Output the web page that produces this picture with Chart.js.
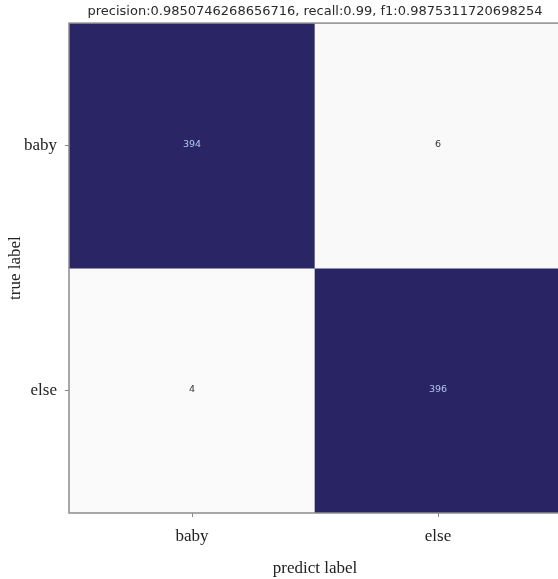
<!DOCTYPE html>
<html>
<head>
<meta charset="utf-8">
<script src="https://cdn.jsdelivr.net/npm/chart.js@4/dist/chart.umd.min.js"></script>
<style>
  html, body { margin: 0; padding: 0; background: #ffffff; overflow: hidden; }
  #wrap { width: 562px; height: 579px; }
</style>
</head>
<body>
<div id="wrap"><canvas id="c" width="562" height="579"></canvas></div>
<script>
// ---- data ----
const trueLabels = ['baby', 'else'];
const predLabels = ['baby', 'else'];
const countsBaby = [394, 6];   // true = baby, predicted baby / else
const countsElse = [4, 396];   // true = else, predicted baby / else
const titleText = 'precision:0.9850746268656716, recall:0.99, f1:0.9875311720698254';

const rows = [countsBaby, countsElse];
const n = trueLabels.length;
const maxCount = Math.max(...rows.flat());

const lo = [252, 252, 252];
const hi = [41, 37, 101];
function cellColor(v) {
  const t = v / maxCount;
  const c = lo.map((a, k) => Math.round(a + (hi[k] - a) * t));
  return `rgb(${c[0]},${c[1]},${c[2]})`;
}

const datasets = rows.map((row, i) => ({
  label: trueLabels[i],
  counts: row,
  data: row.map(() => [n - 1 - i, n - i]),
  backgroundColor: row.map(cellColor),
  borderWidth: 0,
  grouped: false,
  barPercentage: 1,
  categoryPercentage: 1
}));

const cellText = {
  id: 'cellText',
  afterDatasetsDraw(chart) {
    const ctx = chart.ctx;
    ctx.save();
    ctx.font = '9.5px "DejaVu Sans"';
    ctx.textAlign = 'center';
    ctx.textBaseline = 'middle';
    chart.data.datasets.forEach((ds, di) => {
      const meta = chart.getDatasetMeta(di);
      meta.data.forEach((el, j) => {
        const v = ds.counts[j];
        ctx.fillStyle = v / maxCount > 0.5 ? '#b4c6ee' : '#333333';
        ctx.fillText(String(v), el.x, (el.y + el.base) / 2 - 1);
      });
    });
    // frame
    const a = chart.chartArea;
    ctx.strokeStyle = '#8c8c8c';
    ctx.lineWidth = 1.5;
    ctx.strokeRect(a.left, a.top, a.right - a.left, a.bottom - a.top);
    ctx.restore();
  }
};

const serif = '"Liberation Serif", "DejaVu Serif", serif';

new Chart(document.getElementById('c'), {
  type: 'bar',
  data: { labels: predLabels, datasets },
  options: {
    responsive: false,
    animation: false,
    layout: { padding: { top: 0, right: 1, bottom: 0, left: 0 } },
    plugins: {
      legend: { display: false },
      tooltip: { enabled: false },
      title: {
        display: true,
        text: titleText,
        fullSize: false,
        color: '#2a2a2a',
        font: { family: '"DejaVu Sans"', size: 13, weight: 'normal' },
        padding: { top: 4, bottom: 3.5 }
      }
    },
    scales: {
      x: {
        type: 'category',
        grid: { display: true, offset: false, drawOnChartArea: false, tickLength: 4, color: '#888888' },
        border: { display: false },
        ticks: { color: '#222222', font: { family: serif, size: 17 }, padding: 9 },
        title: { display: true, text: 'predict label', color: '#222222', font: { family: serif, size: 17 }, padding: 0 },
        afterFit: s => { s.height = 66; }
      },
      y: {
        type: 'linear',
        min: 0,
        max: n,
        afterBuildTicks: s => { s.ticks = trueLabels.map((_, i) => ({ value: n - 1 - i + 0.5 })); },
        grid: { display: true, drawOnChartArea: false, tickLength: 4, color: '#888888' },
        border: { display: false },
        ticks: {
          color: '#222222',
          font: { family: serif, size: 17 },
          padding: 8,
          callback: v => trueLabels[Math.round(n - 0.5 - v)]
        },
        title: { display: true, text: 'true label', color: '#222222', font: { family: serif, size: 17 }, padding: { top: 5, bottom: 0 } },
        afterFit: s => { s.width = 69; }
      }
    }
  },
  plugins: [cellText]
});
</script>
</body>
</html>
